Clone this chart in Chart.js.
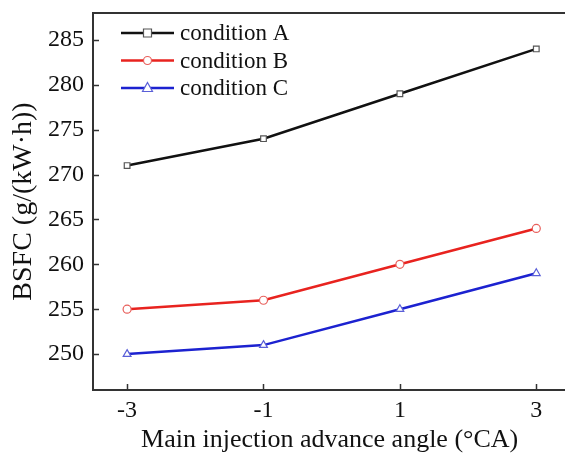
<!DOCTYPE html>
<html>
<head>
<meta charset="utf-8">
<style>
  html, body { margin: 0; padding: 0; background: #fff; overflow: hidden; }
  #wrap { width: 565px; height: 453px; overflow: hidden; }
</style>
<script src="https://cdn.jsdelivr.net/npm/chart.js@4"></script>
</head>
<body>
<div id="wrap"><canvas id="myChart" width="572" height="453"></canvas></div>
<script>
// data
var angles = [-3, -1, 1, 3];
var seriesNames = ['condition A', 'condition B', 'condition C'];
var condA = [271, 274, 279, 284];
var condB = [255, 256, 260, 264];
var condC = [250, 251, 255, 259];
var xTicks = [-3, -1, 1, 3];
var yTicks = [250, 255, 260, 265, 270, 275, 280, 285];

var FONT = '"Liberation Serif", "Times New Roman", serif';
var AXIS = '#333';

function pts(vals) {
    return angles.map(function (a, i) { return { x: a, y: vals[i] }; });
}

// inward tick marks, top frame line and legend
var framePlugin = {
    id: 'frame',
    afterDraw: function (chart) {
        var ctx = chart.ctx, a = chart.chartArea;
        var xs = chart.scales.x, ys = chart.scales.y;
        ctx.save();
        ctx.strokeStyle = AXIS;
        ctx.lineWidth = 2;
        ctx.beginPath();
        ctx.moveTo(a.left, a.top);
        ctx.lineTo(a.right + 8, a.top);
        ctx.stroke();
        ctx.lineWidth = 1.5;
        xTicks.forEach(function (v) {
            var px = Math.round(xs.getPixelForValue(v)) + 0.5;
            ctx.beginPath();
            ctx.moveTo(px, a.bottom);
            ctx.lineTo(px, a.bottom - 6);
            ctx.stroke();
        });
        yTicks.forEach(function (v) {
            var py = Math.round(ys.getPixelForValue(v)) + 0.5;
            ctx.beginPath();
            ctx.moveTo(a.left, py);
            ctx.lineTo(a.left + 6, py);
            ctx.stroke();
        });

        // legend
        ctx.font = '23px ' + FONT;
        ctx.textBaseline = 'middle';
        chart.data.datasets.forEach(function (ds, i) {
            var y = 33 + i * 27.5;
            var x0 = 121, x1 = 174;
            ctx.strokeStyle = ds.borderColor;
            ctx.lineWidth = ds.borderWidth;
            ctx.beginPath();
            ctx.moveTo(x0, y);
            ctx.lineTo(x1, y);
            ctx.stroke();
            var cx = (x0 + x1) / 2, r = ds.pointRadius;
            ctx.fillStyle = '#fff';
            ctx.strokeStyle = ds.pointBorderColor;
            ctx.lineWidth = 1.2;
            ctx.beginPath();
            if (ds.pointStyle === 'rect') {
                ctx.rect(cx - r, y - r, 2 * r, 2 * r);
            } else if (ds.pointStyle === 'circle') {
                ctx.arc(cx, y, r, 0, Math.PI * 2);
            } else {
                ctx.moveTo(cx, y - r - 1);
                ctx.lineTo(cx + r + 0.5, y + r - 1);
                ctx.lineTo(cx - r - 0.5, y + r - 1);
                ctx.closePath();
            }
            ctx.fill();
            ctx.stroke();
            ctx.fillStyle = '#111';
            ctx.fillText(ds.label, 180, y + 1);
        });
        ctx.restore();
    }
};

var ctx = document.getElementById('myChart').getContext('2d');
var chart = new Chart(ctx, {
    type: 'line',
    data: {
        datasets: [
            {
                label: seriesNames[0],
                data: pts(condA),
                borderColor: '#111',
                borderWidth: 2.5,
                pointStyle: 'rect',
                pointRadius: 4,
                pointBorderColor: '#555',
                pointBackgroundColor: '#fff',
                pointBorderWidth: 1.2
            },
            {
                label: seriesNames[1],
                data: pts(condB),
                borderColor: '#e8231f',
                borderWidth: 2.5,
                pointStyle: 'circle',
                pointRadius: 4,
                pointBorderColor: '#e8605c',
                pointBackgroundColor: '#fff',
                pointBorderWidth: 1.2
            },
            {
                label: seriesNames[2],
                data: pts(condC),
                borderColor: '#1c22d0',
                borderWidth: 2.5,
                pointStyle: 'triangle',
                pointRadius: 4.5,
                pointBorderColor: '#5a5fd8',
                pointBackgroundColor: '#fff',
                pointBorderWidth: 1.2
            }
        ]
    },
    options: {
        responsive: false,
        animation: false,
        layout: { padding: { top: 13, right: 0, left: 0, bottom: 0 } },
        plugins: {
            legend: { display: false },
            tooltip: { enabled: false }
        },
        scales: {
            x: {
                type: 'linear',
                min: -3.5,
                max: 3.44,
                afterFit: function (s) {
                    s.height = 63;
                    s.paddingLeft = 0;
                    s.paddingRight = 0;
                },
                afterBuildTicks: function (s) {
                    s.ticks = xTicks.map(function (v) { return { value: v }; });
                },
                grid: { display: false, drawTicks: false },
                border: { display: true, color: AXIS, width: 2 },
                ticks: {
                    padding: 6,
                    color: '#111',
                    font: { family: FONT, size: 24 },
                    callback: function (v) { return String(v); }
                },
                title: {
                    display: true,
                    text: 'Main injection advance angle (\u00b0CA)',
                    color: '#111',
                    font: { family: FONT, size: 26 },
                    padding: { top: 0, bottom: -3 }
                }
            },
            y: {
                min: 246,
                max: 288,
                afterFit: function (s) {
                    s.width = 93;
                    s.paddingTop = 0;
                    s.paddingBottom = 0;
                },
                afterBuildTicks: function (s) {
                    s.ticks = yTicks.map(function (v) { return { value: v }; });
                },
                grid: { display: false, drawTicks: false },
                border: { display: true, color: AXIS, width: 2 },
                ticks: {
                    padding: 9,
                    color: '#111',
                    font: { family: FONT, size: 24 }
                },
                title: {
                    display: true,
                    text: 'BSFC (g/(kW\u00b7h))',
                    color: '#111',
                    font: { family: FONT, size: 28 },
                    padding: { top: 7, bottom: 0 }
                }
            }
        }
    },
    plugins: [framePlugin]
});
</script>
</body>
</html>
